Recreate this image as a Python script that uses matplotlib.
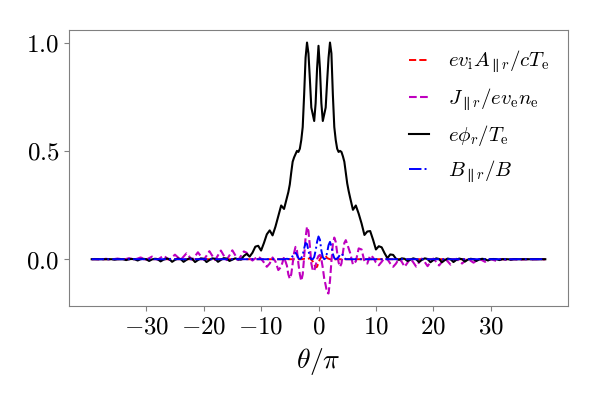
import numpy as np
import matplotlib
matplotlib.use("Agg")
import matplotlib.pyplot as plt
from matplotlib.ticker import FuncFormatter

plt.rcParams['mathtext.fontset'] = 'cm'
plt.rcParams['font.family'] = ['DejaVu Serif']

# theta/pi grid: coarse tails, fine centre
theta_left = np.arange(-39.5, -5.25, 0.5)
theta_mid = np.arange(-5.25, 5.26, 0.25)
theta_right = np.arange(5.5, 39.51, 0.5)

# e phi_r / T_e
phi_left = [
    0, 0, 0, 0, 0, 0, 0, 0, -0.002, 0,
    0, 0, -0.004, 0, 0.001, 0, -0.006, 0, 0.002, 0,
    -0.008, -0.001, 0.002, 0, -0.010, -0.002, 0.003, 0.001, -0.012, -0.003,
    0.003, 0.001, -0.012, -0.003, 0.004, 0.002, -0.013, -0.004, 0.004, 0.002,
    -0.013, -0.004, 0.004, 0.002, -0.012, -0.003, 0.005, 0.003, -0.008, -0.002,
    0.004, 0.0, -0.002, 0.015, 0.025, 0.012, 0.03, 0.058, 0.062, 0.04,
    0.075, 0.115, 0.133, 0.11, 0.15, 0.20, 0.248, 0.232, 0.285,
]
phi_mid = [
    0.31, 0.345, 0.40, 0.45, 0.47, 0.485, 0.50, 0.495, 0.51, 0.55,
    0.61, 0.76, 0.93, 1.0, 0.95, 0.83, 0.70, 0.67, 0.638, 0.72,
    0.88, 0.985, 0.88, 0.72, 0.638, 0.67, 0.70, 0.82, 0.93, 1.0,
    0.95, 0.76, 0.61, 0.55, 0.51, 0.495, 0.50, 0.495, 0.475, 0.45,
    0.40, 0.35, 0.315,
]
phi_right = [
    0.285, 0.228, 0.248, 0.21, 0.165, 0.112, 0.128, 0.13, 0.09, 0.045,
    0.06, 0.055, 0.028, 0.005, 0.022, 0.02, 0.002, -0.003, 0.004, 0.002,
    -0.008, -0.002, 0.004, 0.0, -0.013, -0.003, 0.004, 0.001, -0.014, -0.004,
    0.004, 0.001, -0.014, -0.004, 0.003, 0.0, -0.013, -0.003, 0.003, 0.0,
    -0.011, -0.002, 0.002, 0.0, -0.008, -0.001, 0.002, 0.0, -0.006, 0.0,
    0.001, 0.0, -0.004, 0.0, 0.0, 0.0, -0.002, 0.0, 0.0, 0.0,
    0.0, 0.0, 0.0, 0.0, 0.0, 0.0, 0.0, 0.0, 0.0,
]

# J_par / e v_e n_e
j_left = [
    0, 0.001, 0, -0.001, 0, 0.002, 0, -0.001, 0.001, 0.003,
    0.001, -0.001, 0.001, 0.005, 0.002, -0.001, 0.003, 0.008, 0.004, -0.002,
    0.005, 0.012, 0.005, -0.002, 0.007, 0.016, 0.007, -0.003, 0.009, 0.021,
    0.009, -0.003, 0.012, 0.027, 0.012, -0.003, 0.014, 0.032, 0.014, -0.003,
    0.016, 0.037, 0.016, -0.004, 0.018, 0.040, 0.017, -0.004, 0.018, 0.041,
    0.018, -0.004, 0.015, 0.036, 0.030, 0.005, -0.006, 0.004, 0.012, 0.002,
    -0.015, -0.035, -0.02, 0.008, -0.01, -0.05, -0.035, 0.01, -0.03,
]
j_mid = [
    -0.07, -0.09, -0.07, -0.02, 0.03, 0.057, 0.04, -0.02, -0.07, -0.10,
    -0.07, 0.01, 0.10, 0.15, 0.13, 0.06, -0.02, -0.05, -0.055, -0.03,
    0.0, 0.015, 0.02, 0.0, -0.04, -0.09, -0.12, -0.155, -0.158, -0.10,
    -0.01, 0.07, 0.10, 0.08, 0.03, -0.015, -0.035, -0.02, 0.03, 0.075,
    0.088, 0.07, 0.05,
]
j_right = [
    0.03, -0.025, -0.01, 0.05, 0.045, -0.01, -0.02, 0.018, 0.008, -0.015,
    -0.028, -0.012, 0.006, 0.0, -0.02, -0.035, -0.02, 0.003, -0.012, -0.035,
    -0.016, 0.003, -0.014, -0.034, -0.015, 0.003, -0.013, -0.032, -0.014, 0.003,
    -0.012, -0.029, -0.012, 0.003, -0.010, -0.025, -0.010, 0.002, -0.008, -0.020,
    -0.008, 0.002, -0.007, -0.016, -0.007, 0.001, -0.005, -0.012, -0.005, 0.001,
    -0.004, -0.008, -0.003, 0.001, -0.002, -0.005, -0.002, 0.0, -0.001, -0.003,
    -0.001, 0.0, 0.0, -0.002, 0.0, 0.0, 0.0, -0.001, 0.0,
]

# e v_i A_par / c T_e (sparse: nonzero only near centre)
theta_a = [-39.5, -3.0, -2.5, -2.0, -1.5, -1.0, -0.75, -0.5, -0.25, 0.0,
           0.25, 0.5, 0.75, 1.0, 1.25, 1.5, 2.0, 2.5, 3.0, 39.5]
a_par = [0.0, 0.0, 0.002, 0.0, 0.005, -0.01, -0.025, -0.038, -0.035, -0.015,
         0.0, 0.01, 0.018, 0.02, 0.015, 0.005, 0.0, -0.003, 0.0, 0.0]

# B_par / B
theta_b = [-39.5, -6.0, -5.5, -5.0, -4.75, -4.5, -4.25, -4.0, -3.75, -3.5,
           -3.25, -3.0, -2.75, -2.5, -2.25, -2.0, -1.75, -1.5, -1.25, -1.0,
           -0.75, -0.5, -0.25, 0.0, 0.25, 0.5, 0.75, 1.0, 1.25, 1.5,
           1.75, 2.0, 2.25, 2.5, 2.75, 3.0, 3.25, 3.5, 3.75, 4.0,
           4.25, 4.5, 4.75, 5.0, 39.5]
b_par = [0.0, 0.0, 0.002, 0.0, 0.005, 0.015, 0.025, 0.03, 0.02, 0.005,
         0.0, 0.005, 0.02, 0.05, 0.075, 0.07, 0.04, 0.01, 0.0, 0.0,
         0.01, 0.04, 0.08, 0.105, 0.09, 0.04, 0.01, 0.0, 0.005, 0.03,
         0.065, 0.08, 0.06, 0.025, 0.005, 0.0, 0.003, 0.01, 0.022, 0.026,
         0.018, 0.005, 0.0, 0.0, 0.0]

theta = np.concatenate([theta_left, theta_mid, theta_right])
phi = np.array(phi_left + phi_mid + phi_right)
jpar = np.array(j_left + j_mid + j_right)
assert len(theta) == len(phi) == len(jpar), (len(theta), len(phi), len(jpar))

fig = plt.figure(figsize=(5.98, 3.99), dpi=100)
ax = fig.add_axes([69/598, 1-306/399, (568-69)/598, (306-30)/399])

ax.plot(theta_a, a_par, color='r', ls='--', lw=1.4,
        label=r'$ev_{\mathrm{i}}A_{\parallel r}/cT_{\mathrm{e}}$')
ax.plot(theta, jpar, color='m', ls='--', lw=1.5,
        label=r'$J_{\parallel r}/ev_{\mathrm{e}}n_{\mathrm{e}}$')
ax.plot(theta, phi, color='k', ls='-', lw=1.5,
        label=r'$e\phi_r/T_{\mathrm{e}}$')
ax.plot(theta_b, b_par, color='b', ls='-.', lw=1.4,
        label=r'$B_{\parallel r}/B$')

ax.set_xticks([-30, -20, -10, 0, 10, 20, 30])
ax.set_yticks([0.0, 0.5, 1.0])
ax.xaxis.set_major_formatter(FuncFormatter(lambda v, p: r'$%d$' % round(v)))
ax.yaxis.set_major_formatter(FuncFormatter(lambda v, p: r'$%.1f$' % v))
ax.tick_params(labelsize=18, color='#808080')
for s in ax.spines.values():
    s.set_color('#808080')
ax.set_xlabel(r'$\theta/\pi$', fontsize=20, labelpad=5)

ax.legend(loc='upper right', frameon=False, fontsize=15, handlelength=1.0,
          handletextpad=0.9, labelspacing=0.5)

fig.savefig('out.png', dpi=100)
